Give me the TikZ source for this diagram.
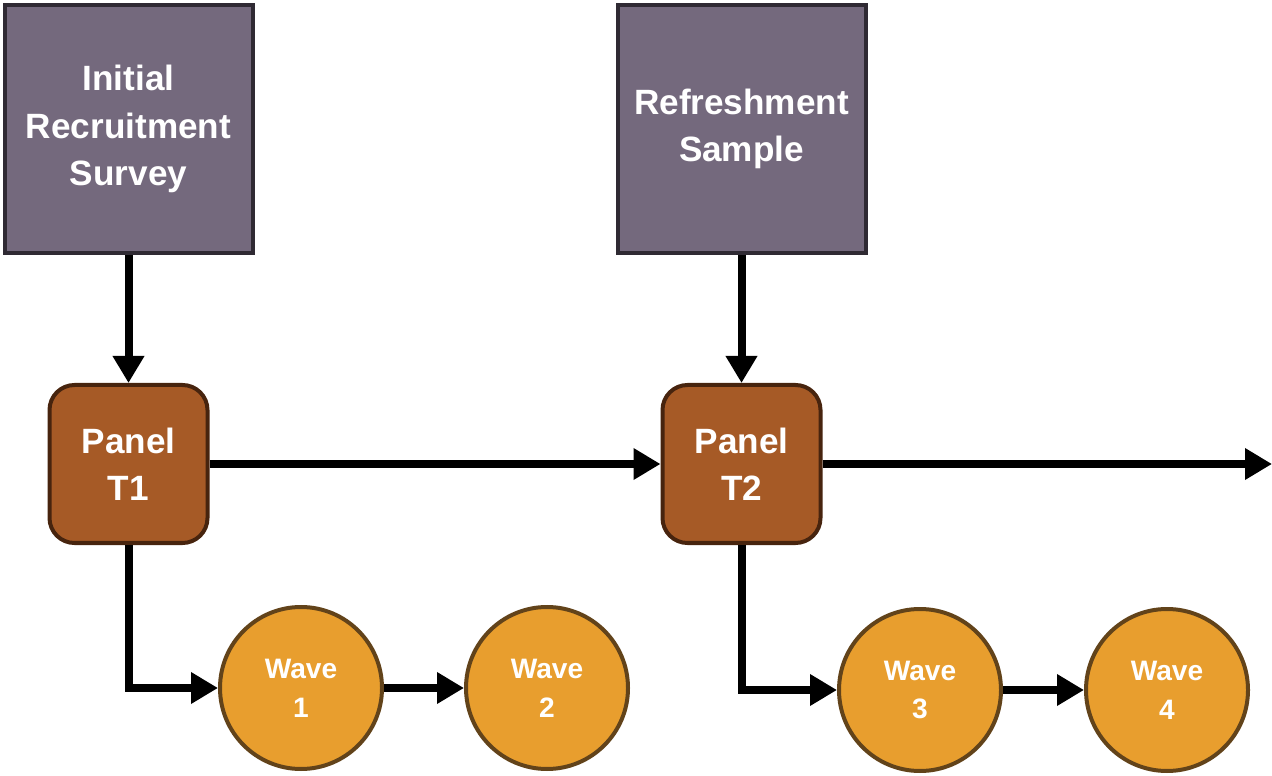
\documentclass[tikz,border=0pt]{standalone}
\usepackage{fontspec}
\setmainfont{Liberation Sans}
\usetikzlibrary{positioning, arrows.meta, shapes.geometric}

\definecolor{boxfill}{HTML}{74697D}
\definecolor{boxdraw}{HTML}{2F2A33}
\definecolor{panelfill}{HTML}{A65A26}
\definecolor{paneldraw}{HTML}{47240E}
\definecolor{wavefill}{HTML}{E89E2E}
\definecolor{wavedraw}{HTML}{62431A}

\begin{document}
\begin{tikzpicture}[
    >={Triangle[length=0.54cm, width=0.6cm]},
    sourcebox/.style={draw=boxdraw, fill=boxfill, line width=0.08cm,
        minimum width=4.96cm, minimum height=4.96cm, align=center,
        text=white, font=\fontsize{20}{27}\selectfont\bfseries},
    panelbox/.style={draw=paneldraw, fill=panelfill, line width=0.08cm,
        rounded corners=0.5cm, minimum width=3.16cm, minimum height=3.16cm,
        align=center, text=white, font=\fontsize{20}{27}\selectfont\bfseries},
    wavecirc/.style={circle, draw=wavedraw, fill=wavefill, line width=0.08cm,
        minimum size=3.24cm, inner sep=0pt, align=center, text=white,
        font=\fontsize{16}{22}\selectfont\bfseries},
    flow/.style={->, line width=0.16cm}
]
    \useasboundingbox (0,0) rectangle (25.44,15.5);

    % --- sources ---
    \node[sourcebox] (initial) at (2.57,12.92) {Initial\\Recruitment\\Survey};
    \node[sourcebox] (refresh) at (14.83,12.92) {Refreshment\\Sample};

    % --- panels ---
    \node[panelbox] (panelA) at (2.57,6.22) {Panel\\T1};
    \node[panelbox] (panelB) at (14.83,6.22) {Panel\\T2};

    % --- waves ---
    \node[wavecirc] (waveA) at (6.02,1.74) {Wave\\1};
    \node[wavecirc] (waveB) at (10.94,1.74) {Wave\\2};
    \node[wavecirc] (waveC) at (18.40,1.70) {Wave\\3};
    \node[wavecirc] (waveD) at (23.34,1.70) {Wave\\4};

    \coordinate (future) at (25.44,6.22);

    % --- connectors ---
    \draw[flow] (initial.south) -- (panelA.north);
    \draw[flow] (refresh.south) -- (panelB.north);
    \draw[flow] (panelA.east) -- (panelB.west);
    \draw[flow] (panelB.east) -- (future);
    \draw[flow] (panelA.south) |- (waveA.west);
    \draw[flow] (panelB.south) |- (waveC.west);
    \draw[flow] (waveA.east) -- (waveB.west);
    \draw[flow] (waveC.east) -- (waveD.west);

\end{tikzpicture}
\end{document}
